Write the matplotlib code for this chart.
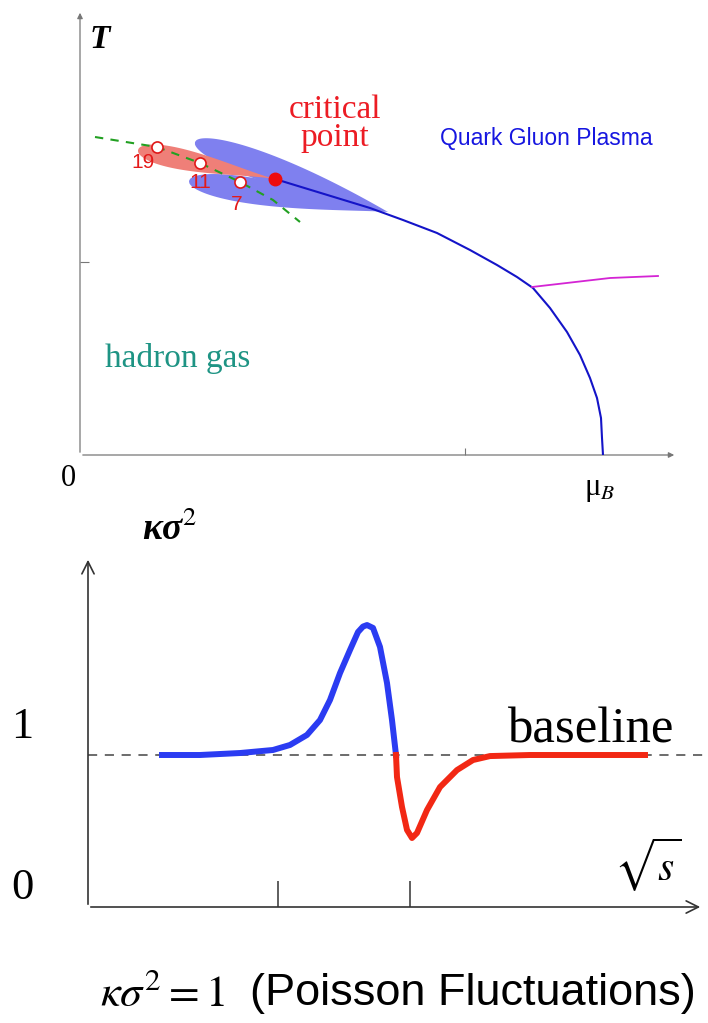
import matplotlib
matplotlib.use('Agg')
import matplotlib.pyplot as plt
import numpy as np

plt.rcParams['mathtext.fontset'] = 'stix'
SERIF = 'Liberation Serif'
SANS = 'Liberation Sans'

# ---- top panel: QCD phase diagram (mu_B, T) in arbitrary units ----
phase_mu = [1.95, 2.90, 3.23, 3.57, 3.90, 4.17, 4.37, 4.53, 4.70, 4.87, 5.00,
            5.10, 5.17, 5.21, 5.22, 5.23]
phase_T = [2.76, 2.47, 2.35, 2.22, 2.05, 1.90, 1.78, 1.67, 1.47, 1.23, 1.00,
           0.77, 0.57, 0.37, 0.17, 0.0]

pink_mu = [4.52, 5.30, 5.78]
pink_T = [1.68, 1.77, 1.79]

freeze_mu = [0.15, 0.77, 1.20, 1.60, 1.93, 2.20]
freeze_T = [3.18, 3.08, 2.92, 2.73, 2.55, 2.33]

energies = ['19', '11', '7']
energy_mu = [0.77, 1.20, 1.60]
energy_T = [3.08, 2.92, 2.73]
label_mu = [0.63, 1.20, 1.57]
label_T = [2.93, 2.72, 2.50]

cp_mu, cp_T = 1.95, 2.76

# lobes: (start, tip, half width, taper exponent, colour)
lobes = [
    ((1.15, 3.13), (3.08, 2.43), 0.14, 1.0, '#7f80ef'),
    ((1.09, 2.74), (3.08, 2.43), 0.13, 1.2, '#7f80ef'),
    ((0.58, 3.05), (1.95, 2.76), 0.105, 1.4, '#ef7f78'),
]

# ---- bottom panel: kappa sigma^2 vs sqrt(s) ----
blue_x = [0.74, 1.12, 1.52, 1.85, 2.02, 2.19, 2.32, 2.42, 2.52, 2.62, 2.70,
          2.75, 2.79, 2.85, 2.92, 2.99, 3.04, 3.08]
blue_y = [1.0, 1.0, 1.013, 1.033, 1.066, 1.132, 1.230, 1.362, 1.539, 1.691, 1.809,
          1.845, 1.855, 1.836, 1.711, 1.474, 1.230, 1.0]
red_x = [3.08, 3.09, 3.14, 3.19, 3.24, 3.29, 3.39, 3.52, 3.69, 3.85, 4.02, 4.42, 5.57]
red_y = [1.0, 0.855, 0.658, 0.507, 0.454, 0.487, 0.638, 0.789, 0.901, 0.967, 0.993, 1.0, 1.0]
sqrt_s_ticks = [1.90, 3.22]


def lobe(start, tip, width, q):
    s = np.array(start)
    d = np.array(tip) - s
    L = np.hypot(*d)
    n = np.array([-d[1], d[0]]) / L
    t = np.linspace(0, 1, 300)
    prof = np.sqrt(t) * (1 - t) ** q
    prof = prof / prof.max() * width
    c = s[None, :] + t[:, None] * d[None, :]
    up = c + prof[:, None] * n
    lo = c - prof[:, None] * n
    return np.vstack([up, lo[::-1]])


W, H = 708, 1023
fig = plt.figure(figsize=(W / 100, H / 100), dpi=100)


def fx(px):
    return px / W


def fy(py):
    return 1 - py / H


# top axes
ax1 = fig.add_axes([fx(80), fy(455), 600 / W, 445 / H])
ax1.set_xlim(0, 6.0)
ax1.set_ylim(0, 4.45)
for s in ax1.spines.values():
    s.set_visible(False)
ax1.set_xticks([3.85])
ax1.set_yticks([1.93])
ax1.tick_params(direction='in', colors='#777777', labelbottom=False, labelleft=False)
ax1.tick_params(axis='x', length=5, width=0.8)
ax1.tick_params(axis='y', length=6.5, width=0.8)
arrow_gray = dict(arrowstyle='-|>', color='#777777', lw=0.9, mutation_scale=8)
ax1.annotate('', xy=(0, 1), xytext=(0, 0), xycoords='axes fraction', arrowprops=arrow_gray)
ax1.annotate('', xy=(0.995, 0), xytext=(0, 0), xycoords='axes fraction', arrowprops=arrow_gray)

for start, tip, w, q, col in lobes:
    poly = lobe(start, tip, w, q)
    ax1.fill(poly[:, 0], poly[:, 1], color=col, lw=0, zorder=2)

ax1.plot(phase_mu, phase_T, color='#1414c8', lw=1.5, zorder=3, solid_joinstyle='round')
ax1.plot(pink_mu, pink_T, color='#d424d4', lw=1.3, zorder=3)
ax1.plot(freeze_mu, freeze_T, color='#22a022', lw=1.5, dashes=(4, 3.5), zorder=4)
ax1.plot(energy_mu, energy_T, 'o', ms=8, mfc='white', mec='#e01818', mew=1.2, zorder=5)
ax1.plot([cp_mu], [cp_T], 'o', ms=9, color='#ee0c0c', zorder=5)
for lab, x, y in zip(energies, label_mu, label_T):
    ax1.text(x, y, lab, color='#e41a1a', fontsize=15, family=SANS, ha='center', va='center')

ax1.text(2.55, 3.31, 'critical\npoint', color='#ec1c24', fontsize=24, family=SERIF,
         ha='center', va='center', linespacing=0.9)
ax1.text(4.66, 3.17, 'Quark Gluon Plasma', color='#1616e0', fontsize=16.5, family=SANS,
         ha='center', va='center')
ax1.text(0.25, 0.96, 'hadron gas', color='#1e9484', fontsize=24, family=SERIF,
         ha='left', va='center')
fig.text(fx(100), fy(40), 'T', fontsize=24, family=SERIF, style='italic', weight='bold',
         ha='center', va='center')
fig.text(fx(68), fy(479), '0', fontsize=22, family=SERIF, ha='center', va='center')
fig.text(fx(600), fy(489), 'μ$_B$', fontsize=22, family=SERIF, ha='center', va='center')

# bottom axes
ax2 = fig.add_axes([fx(88), fy(907), (703 - 88) / W, (907 - 557) / H])
ax2.set_xlim(0, 6.15)
ax2.set_ylim(0, 350 / 152)
for s in ax2.spines.values():
    s.set_visible(False)
ax2.set_xticks(sqrt_s_ticks)
ax2.set_yticks([])
ax2.tick_params(axis='x', direction='in', length=19, width=1.1, colors='#333333', labelbottom=False)
arrow_dark = dict(arrowstyle='->', color='#333333', lw=1.2, mutation_scale=22)
ax2.annotate('', xy=(0, 1), xytext=(0, 0), xycoords='axes fraction', arrowprops=arrow_dark)
ax2.annotate('', xy=(1, 0), xytext=(0, 0), xycoords='axes fraction', arrowprops=arrow_dark)

ax2.axhline(1.0, xmin=0, xmax=1.01, color='#444444', lw=1.1, dashes=(6, 5), clip_on=False, zorder=1)
ax2.plot(blue_x, blue_y, color='#2b3cf2', lw=4.3, solid_joinstyle='round', zorder=3)
ax2.plot(red_x, red_y, color='#f22814', lw=4.3, solid_joinstyle='round', zorder=3)

ax2.text(4.19, 1.16, 'baseline', fontsize=36.5, family=SERIF, ha='left', va='center')
fig.text(fx(648), fy(865), r'$\sqrt{s}$', fontsize=30, ha='center', va='center')
fig.text(fx(22), fy(727), '1', fontsize=32, family=SERIF, ha='center', va='center')
fig.text(fx(22), fy(888), '0', fontsize=32, family=SERIF, ha='center', va='center')
fig.text(fx(170), fy(530), 'κσ$^2$', fontsize=27, family=SERIF, style='italic',
         weight='bold', ha='center', va='center')

fig.text(fx(100), fy(994), r'$\kappa\sigma^2 = 1$', fontsize=32, ha='left', va='center')
fig.text(fx(250), fy(994), '(Poisson Fluctuations)', fontsize=32.5, family=SANS,
         ha='left', va='center')

fig.savefig('out.png', dpi=100)
